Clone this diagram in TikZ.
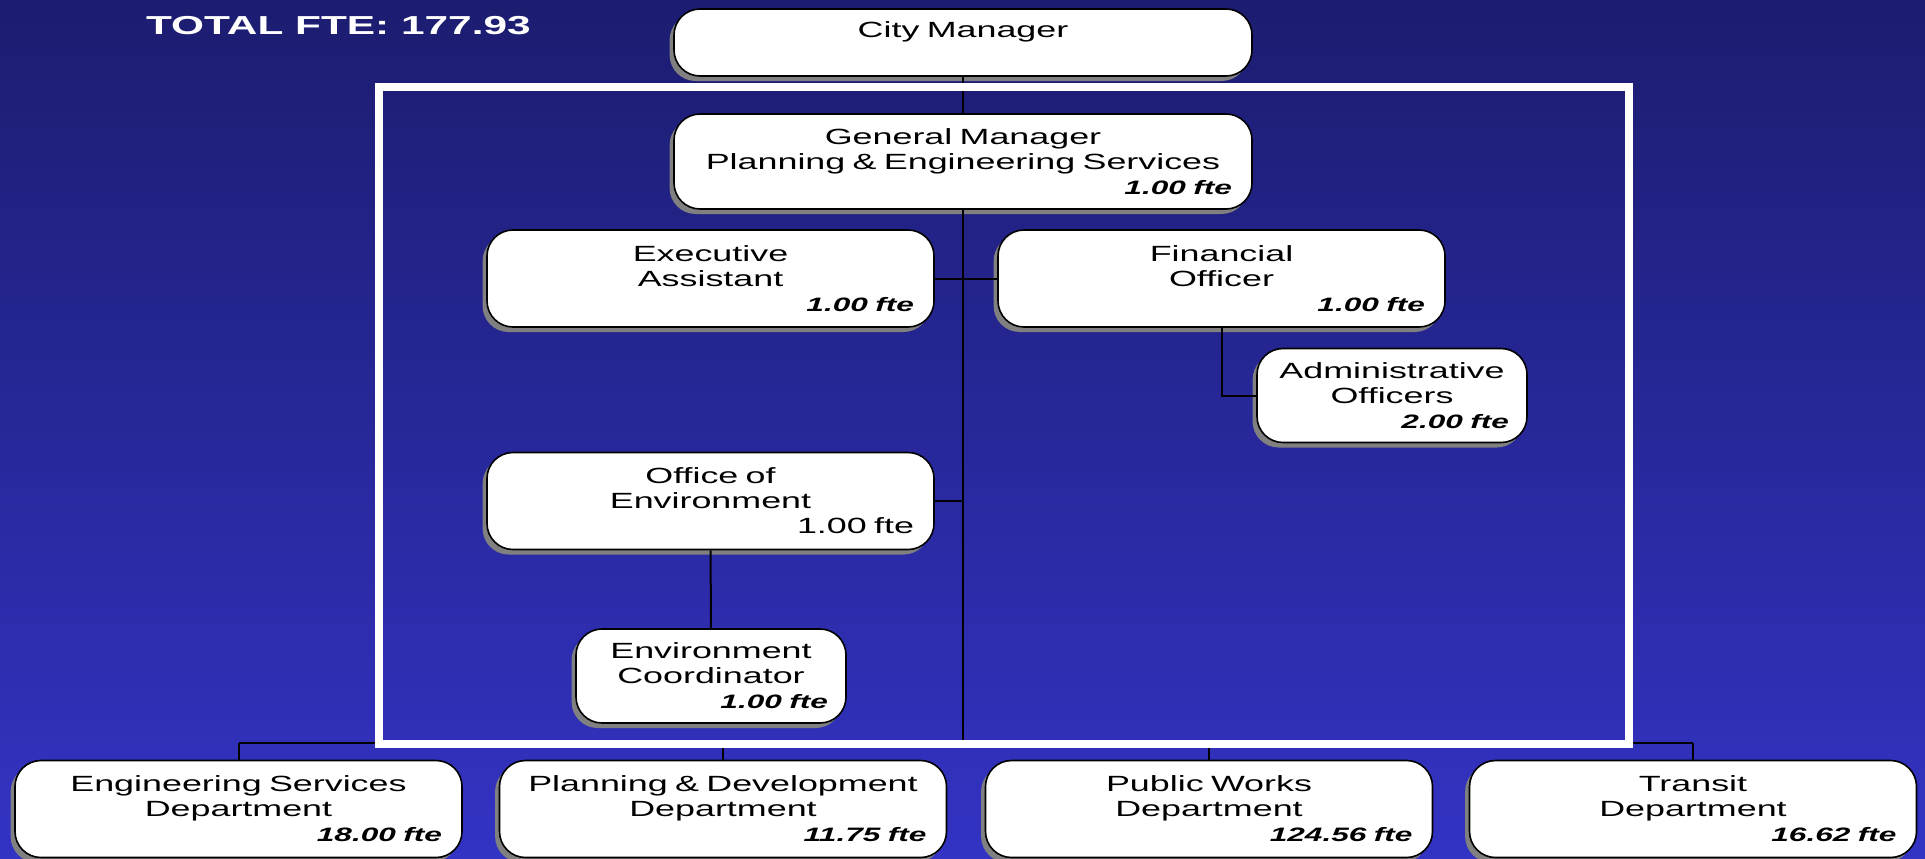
\documentclass[tikz,border=0pt]{standalone}
\usepackage{fontspec}
\setmainfont{Liberation Sans}[FakeStretch=1.63]
\usepackage{tikz}
\usetikzlibrary{positioning,shadows}

\definecolor{bgtop}{RGB}{28,28,112}
\definecolor{bgbot}{RGB}{51,51,196}
\newcommand{\fteline}[1]{\mbox{}\hfill{\fontsize{9.7}{12.5}\selectfont\bfseries\itshape #1 fte}}

\begin{document}
\begin{tikzpicture}[
  x=0.5pt, y=-0.5pt,
  font=\fontsize{11}{12.5}\selectfont,
  orgbox/.style={draw=black, line width=0.8pt, fill=white, rounded corners=13pt,
    inner xsep=10pt, inner ysep=0pt, align=center,
    drop shadow={shadow xshift=-2.2pt, shadow yshift=-2.5pt, opacity=1, fill=black!50}},
  topbox/.style={orgbox, text width=269pt},
  widebox/.style={orgbox, text width=203.5pt, minimum height=48.5pt},
  smallbox/.style={orgbox, inner xsep=9pt, text width=117pt, minimum height=47pt},
  link/.style={draw=black, line width=1pt}
]
  \useasboundingbox (0,0) rectangle (1925,858);
  \shade[top color=bgtop, bottom color=bgbot] (0,0) rectangle (1925,858);

  \node[anchor=base west, text=white, font=\fontsize{13}{15}\selectfont\bfseries] (total) at (139,34) {TOTAL FTE: 177.93};

  % chart boxes
  \node[topbox, minimum height=33.5pt] (cm) at (963,42.5) {City Manager\\\mbox{}};
  \node[topbox, minimum height=47.5pt] (gm) at (963,161.5) {General Manager\\Planning \& Engineering Services\\\fteline{1.00}};
  \node[widebox] (ea) at (710.5,278.5) {Executive\\Assistant\\\fteline{1.00}};
  \node[widebox] (fo) at (1221.5,278.5) {Financial\\Officer\\\fteline{1.00}};
  \node[smallbox] (ad) at (1392,395.5) {Administrative\\Officers\\\fteline{2.00}};
  \node[widebox] (oe) at (710.5,501) {Office of\\Environment\\\mbox{}\hfill 1.00 fte};
  \node[smallbox] (ec) at (711,676) {Environment\\Coordinator\\\fteline{1.00}};

  \node[widebox] (eng) at (238.5,809) {Engineering Services\\Department\\\fteline{18.00}};
  \node[widebox] (pd) at (723,809) {Planning \& Development\\Department\\\fteline{11.75}};
  \node[widebox] (pw) at (1209,809) {Public Works\\Department\\\fteline{124.56}};
  \node[widebox] (tr) at (1693,809) {Transit\\Department\\\fteline{16.62}};

  % connectors
  \coordinate (busl) at (238.5,743);
  \coordinate (busr) at (1693,743);
  \draw[link] (cm) -- (gm);
  \draw[link] (gm.south) -- (gm.south |- busl);
  \draw[link] (ea.east) -- (ea.east -| gm.south);
  \draw[link] (fo.west) -- (fo.west -| gm.south);
  \draw[link] (fo.south) |- (ad.west);
  \draw[link] (oe.east) -- (oe.east -| gm.south);
  \draw[link] (oe) -- (ec);
  \draw[link] (busl) -- (busr);
  \foreach \dept in {eng,pd,pw,tr}
    \draw[link] (\dept.north) -- (\dept.north |- busl);

  % white frame
  \draw[white, line width=4pt] (379,87) rectangle (1629,744);
\end{tikzpicture}
\end{document}
